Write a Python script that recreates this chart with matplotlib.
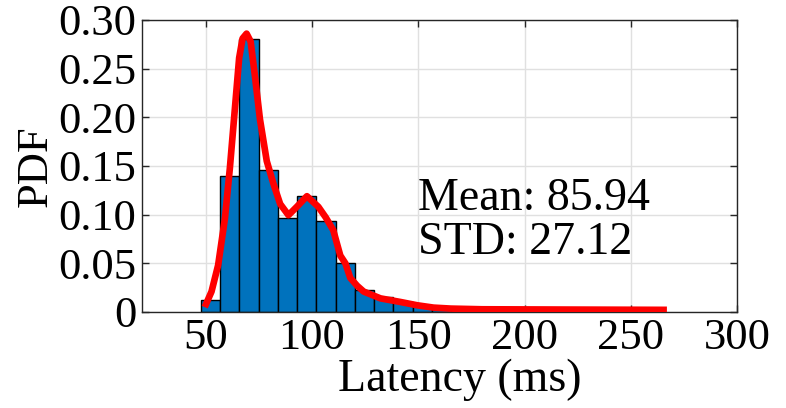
import numpy as np
import matplotlib
matplotlib.use("Agg")
import matplotlib.pyplot as plt


# histogram
bin_start = 47.6
bin_width = 9.07
bar_heights = [0.012, 0.140, 0.280, 0.146, 0.097, 0.119, 0.093, 0.050,
               0.023, 0.015, 0.010, 0.006, 0.004, 0.002, 0.002, 0.001]

# smoothed pdf curve
curve_x = [49.5, 52.7, 55.8, 59.0, 61.3, 63.7, 65.7, 67.3, 69.2, 71.1,
           73.1, 75.5, 78.7, 81.8, 85.0, 88.9, 92.8, 97.6, 103.0, 106.5,
           110.0, 113.3, 115.7, 118.0, 121.2, 124.3, 132.2, 141.6, 149.5,
           157.2, 165.3, 180.0, 220.0, 267.0]
curve_y = [0.005, 0.021, 0.048, 0.096, 0.147, 0.209, 0.261, 0.281, 0.286,
           0.278, 0.243, 0.198, 0.155, 0.132, 0.111, 0.0995, 0.108, 0.119,
           0.108, 0.097, 0.084, 0.058, 0.050, 0.035, 0.027, 0.021, 0.014,
           0.0103, 0.0069, 0.0045, 0.0035, 0.0028, 0.0025, 0.0022]

x_ticks = [50, 100, 150, 200, 250, 300]
y_ticks = [0, 0.05, 0.10, 0.15, 0.20, 0.25, 0.30]
y_labels = ["0", "0.05", "0.10", "0.15", "0.20", "0.25", "0.30"]

mean_txt = "Mean: 85.94"
std_txt = "STD: 27.12"

plt.rcParams["font.family"] = ["Liberation Serif", "DejaVu Serif"]
plt.rcParams["font.size"] = 32

fig = plt.figure(figsize=(7.86, 4.08), dpi=100)
ax = fig.add_axes([0.1807, 0.2353, 0.9377 - 0.1807, 0.951 - 0.2353])

edges = bin_start + bin_width * np.arange(len(bar_heights))
ax.bar(edges, bar_heights, width=bin_width, align="edge",
       color="#0072BD", edgecolor="black", linewidth=1.0, zorder=2)
ax.plot(curve_x, curve_y, color="red", linewidth=4.8, zorder=3,
        solid_capstyle="butt", solid_joinstyle="round")

ax.set_xlim(20, 300)
ax.set_ylim(0, 0.30)
ax.set_xticks(x_ticks)
ax.set_yticks(y_ticks)
ax.set_yticklabels(y_labels)
ax.grid(True, color="#e0e0e0", linewidth=1.0, zorder=0)
ax.set_axisbelow(True)
ax.tick_params(direction="in", length=5, width=1, top=True, right=True,
               colors="#262626", labelcolor="black", pad=4)
for s in ax.spines.values():
    s.set_color("#262626")
    s.set_linewidth(1.0)

ax.set_xlabel("Latency (ms)", fontsize=33, labelpad=2)
ax.xaxis.set_label_coords(0.534, -0.16)
ax.set_ylabel("PDF", labelpad=2)

ax.text(150, 0.116, mean_txt, va="center", ha="left", fontsize=33)
ax.text(150, 0.071, std_txt, va="center", ha="left", fontsize=33)

fig.savefig("out.png", dpi=100)
